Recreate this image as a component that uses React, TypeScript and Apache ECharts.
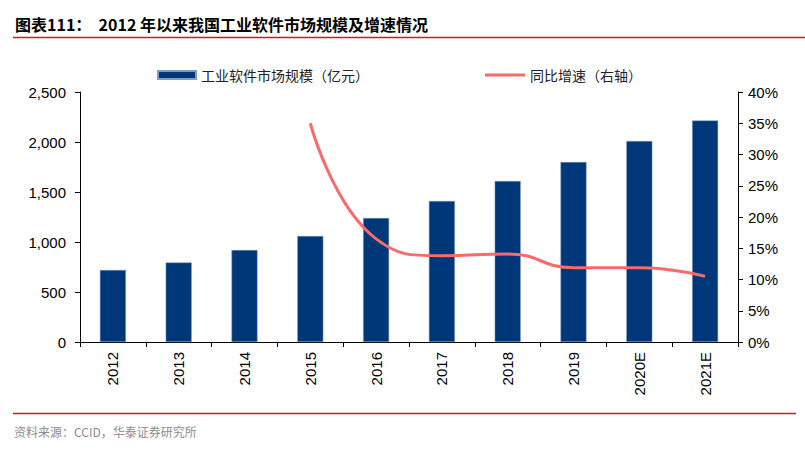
import { useEffect, useRef } from 'react';
import * as echarts from 'echarts';

const years = ['2012', '2013', '2014', '2015', '2016', '2017', '2018', '2019', '2020E', '2021E'];
const marketSize = [720, 795, 920, 1060, 1240, 1410, 1610, 1800, 2010, 2215];
const growthRate = [null, null, null, 35, 16.5, 13.8, 14.1, 11.9, 11.9, 10.5];
const leftTicks = { min: 0, max: 2500, interval: 500 };
const rightTicks = { min: 0, max: 40, interval: 5 };

const barName = '工业软件市场规模（亿元）';
const lineName = '同比增速（右轴）';
const titleText = '图表111：  2012 年以来我国工业软件市场规模及增速情况';
const sourceText = '资料来源：CCID，华泰证券研究所';

const axisFont = 'Arial, "Liberation Sans", sans-serif';
const cnFont = '"Noto Sans CJK SC", sans-serif';

const App = () => {
    const chartRef = useRef<HTMLDivElement>(null);

    useEffect(() => {
        if (!chartRef.current) return;
        const chart = echarts.init(chartRef.current, undefined, { renderer: 'svg' });

        chart.setOption({
            animation: false,
            backgroundColor: '#fff',
            title: {
                text: titleText,
                left: 10,
                top: 11,
                textStyle: { fontSize: 16, fontWeight: 'bold', color: '#000', fontFamily: cnFont }
            },
            legend: [
                {
                    data: [barName],
                    left: 152,
                    top: 63,
                    itemWidth: 38,
                    itemHeight: 8,
                    icon: 'rect',
                    textStyle: { fontSize: 14, color: '#222', fontFamily: cnFont }
                },
                {
                    data: [lineName],
                    left: 480,
                    top: 63,
                    itemWidth: 40,
                    itemHeight: 3,
                    icon: 'rect',
                    textStyle: { fontSize: 14, color: '#222', fontFamily: cnFont }
                }
            ],
            grid: { left: 80, right: 67, top: 92, bottom: 112 },
            xAxis: {
                type: 'category',
                data: years,
                axisLine: { lineStyle: { color: '#000', width: 1 } },
                axisTick: { show: true, alignWithLabel: false, length: 5, lineStyle: { color: '#000' } },
                axisLabel: {
                    rotate: 90,
                    interval: 0,
                    margin: 10,
                    fontSize: 15,
                    color: '#000',
                    fontFamily: axisFont
                }
            },
            yAxis: [
                {
                    type: 'value',
                    ...leftTicks,
                    splitLine: { show: false },
                    axisLine: { show: true, lineStyle: { color: '#000' } },
                    axisTick: { show: true, length: 5, lineStyle: { color: '#000' } },
                    axisLabel: {
                        fontSize: 15,
                        color: '#000',
                        margin: 14,
                        fontFamily: axisFont,
                        formatter: (v: number) => v.toLocaleString('en-US')
                    }
                },
                {
                    type: 'value',
                    ...rightTicks,
                    position: 'right',
                    splitLine: { show: false },
                    axisLine: { show: true, lineStyle: { color: '#000' } },
                    axisTick: { show: true, length: 5, lineStyle: { color: '#000' } },
                    axisLabel: {
                        fontSize: 15,
                        color: '#000',
                        margin: 10,
                        fontFamily: axisFont,
                        formatter: '{value}%'
                    }
                }
            ],
            series: [
                {
                    name: barName,
                    type: 'bar',
                    data: marketSize,
                    barWidth: 26,
                    itemStyle: { color: '#003778', borderColor: '#7f9cc4', borderWidth: 0.5 }
                },
                {
                    name: lineName,
                    type: 'line',
                    yAxisIndex: 1,
                    data: growthRate,
                    smooth: true,
                    showSymbol: false,
                    symbol: 'none',
                    lineStyle: { color: '#F86B6B', width: 3 },
                    itemStyle: { color: '#F86B6B' }
                }
            ],
            graphic: [
                {
                    type: 'line',
                    shape: { x1: 13, y1: 37.5, x2: 805, y2: 37.5 },
                    style: { stroke: '#E3140C', lineWidth: 1.5 }
                },
                {
                    type: 'line',
                    shape: { x1: 13, y1: 413.5, x2: 796, y2: 413.5 },
                    style: { stroke: '#E3140C', lineWidth: 1.5 }
                },
                {
                    type: 'text',
                    left: 14,
                    top: 425,
                    style: { text: sourceText, fontSize: 12, fill: '#8c8c8c', fontFamily: cnFont }
                }
            ]
        });

        return () => {
            chart.dispose();
        };
    }, []);

    return <div ref={chartRef} style={{ position: 'fixed', left: 0, top: 0, width: 805, height: 454 }} />;
};

export default App;
